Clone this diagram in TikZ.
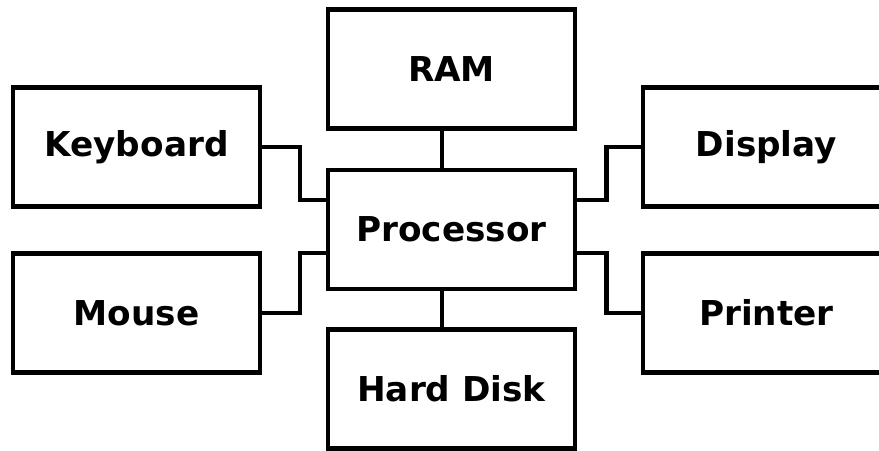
\documentclass[tikz,border=0pt]{standalone}
\usepackage{fontspec}
\setmainfont{DejaVu Sans}
\usepackage{tikz}
\usetikzlibrary{positioning,calc}

\begin{document}
\begin{tikzpicture}[
    unit/.style={draw, line width=0.09cm, minimum width=4.94cm, minimum height=2.38cm,
                 inner sep=0pt, font=\fontsize{19.5}{23}\selectfont\bfseries},
    link/.style={line width=0.09cm}
  ]
  % Canvas (fixes the margins)
  \useasboundingbox (0,0) rectangle (17.58,9);

  % Central unit and its neighbours
  \node[unit] (proc) at (9.03,4.41) {Processor};
  \node[unit] (ram)  at (9.03,7.62) {RAM};
  \node[unit] (disk) at (9.03,1.22) {Hard Disk};

  % Input devices
  \node[unit] (kbd)   at (2.73,6.06) {Keyboard};
  \node[unit] (mouse) at (2.73,2.74) {Mouse};

  % Output devices
  \node[unit] (disp)  at (15.33,6.06) {Display};
  \node[unit] (prn)   at (15.33,2.74) {Printer};

  % Connectors
  \draw[link] ([xshift=-0.19cm]ram.south) -- ([xshift=-0.19cm]proc.north);
  \draw[link] ([xshift=-0.19cm]proc.south) -- ([xshift=-0.19cm]disk.north);
  \draw[link] (kbd.east) -- ++(0.75,0) |- ([yshift=0.59cm]proc.west);
  \draw[link] (mouse.east) -- ++(0.75,0) |- ([yshift=-0.47cm]proc.west);
  \draw[link] ([yshift=0.59cm]proc.east) -- ++(0.58,0) |- (disp.west);
  \draw[link] ([yshift=-0.47cm]proc.east) -- ++(0.58,0) |- (prn.west);
\end{tikzpicture}
\end{document}
